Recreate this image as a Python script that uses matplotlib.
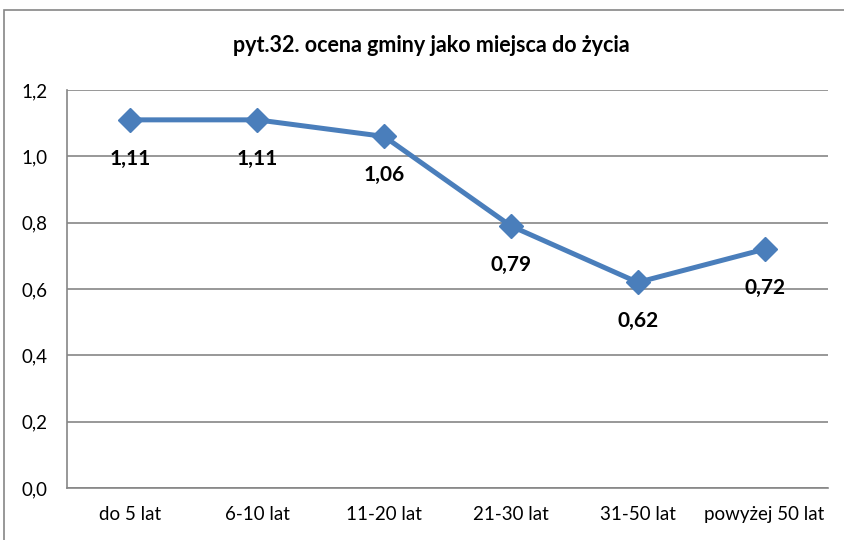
import matplotlib.pyplot as plt
from matplotlib.patches import Rectangle

# Data
categories = ['do 5 lat', '6-10 lat', '11-20 lat', '21-30 lat', '31-50 lat', 'powyżej 50 lat']
values = [1.11, 1.11, 1.06, 0.79, 0.62, 0.72]
yticks = [0.0, 0.2, 0.4, 0.6, 0.8, 1.0, 1.2]

plt.rcParams['font.family'] = ['Lato', 'DejaVu Sans']

fig = plt.figure(figsize=(8.45, 5.4), dpi=100)
ax = fig.add_axes([67/845, 1 - 488/540, (828 - 67)/845, (488 - 90)/540])

# Figure border (gray, visible left and top)
fig.patches.append(Rectangle((4/845, -0.05), 1.1, (540 - 10)/540 + 0.05,
                             transform=fig.transFigure, fill=False,
                             edgecolor='#868686', linewidth=1.2))

x = list(range(len(categories)))
ax.plot(x, values, color='#4A7EBB', linewidth=3.6, marker='D', markersize=12,
        markeredgecolor='#4A7EBB', markerfacecolor='#4A7EBB', zorder=3)

for xi, v in zip(x, values):
    ax.annotate(f'{v:.2f}'.replace('.', ','), (xi, v), xytext=(0, -28),
                textcoords='offset points', ha='center', va='center',
                fontsize=15, fontweight='bold', color='black', zorder=4)

ax.set_xlim(-0.5, len(categories) - 0.5)
ax.set_ylim(0, 1.2)
ax.set_yticks(yticks)
ax.set_yticklabels([f'{t:.1f}'.replace('.', ',') for t in yticks])
ax.set_xticks(x)
ax.set_xticklabels(categories)
ax.tick_params(axis='both', length=0, labelsize=13.5, colors='black')
ax.tick_params(axis='y', pad=14)
ax.tick_params(axis='x', pad=13)

ax.grid(axis='y', color='#868686', linewidth=1.2)
ax.set_axisbelow(True)
for side in ['top', 'right']:
    ax.spines[side].set_visible(False)
for side in ['left', 'bottom']:
    ax.spines[side].set_color('#868686')
    ax.spines[side].set_linewidth(1.2)

fig.text(431/845, 1 - 45/540, 'pyt.32. ocena gminy jako miejsca do życia',
         ha='center', va='center', fontsize=15.5, fontweight='bold')

fig.savefig('out.png', dpi=100)
